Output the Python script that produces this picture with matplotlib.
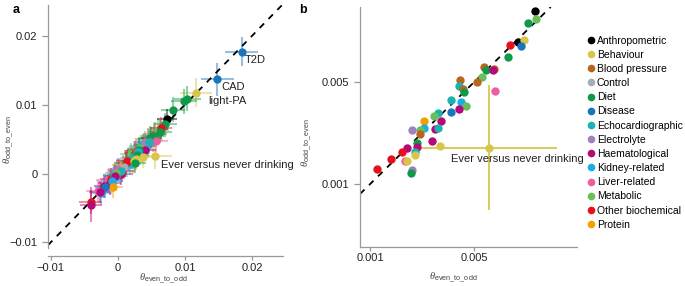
import numpy as np
import matplotlib.pyplot as plt
from matplotlib.lines import Line2D

plt.rcParams['font.family'] = ['Liberation Sans', 'DejaVu Sans']
plt.rcParams['mathtext.fontset'] = 'custom'
plt.rcParams['mathtext.rm'] = 'Liberation Sans'
plt.rcParams['mathtext.it'] = 'Liberation Serif:italic'

categories = ['Anthropometric', 'Behaviour', 'Blood pressure', 'Control', 'Diet',
              'Disease', 'Echocardiographic', 'Electrolyte', 'Haematological',
              'Kidney-related', 'Liver-related', 'Metabolic', 'Other biochemical', 'Protein']
colors = ['#000000', '#D8C64C', '#B8651E', '#A3AEB8', '#0E9A48', '#1A75BC', '#1BB2B2',
          '#9E82BE', '#B5087A', '#1BAEE6', '#EE5DA0', '#6BBE5A', '#E8101E', '#F5A000']
cmap = dict(zip(categories, colors))

# panel a: all traits, with standard errors
a_cat = ['Blood pressure', 'Blood pressure', 'Blood pressure', 'Electrolyte', 'Electrolyte',
         'Liver-related', 'Liver-related', 'Liver-related', 'Metabolic', 'Metabolic',
         'Echocardiographic', 'Echocardiographic', 'Haematological', 'Haematological',
         'Haematological', 'Other biochemical', 'Other biochemical', 'Protein', 'Protein',
         'Kidney-related', 'Kidney-related', 'Anthropometric',
         'Liver-related', 'Echocardiographic', 'Haematological', 'Metabolic', 'Kidney-related',
         'Other biochemical', 'Blood pressure', 'Diet', 'Liver-related', 'Echocardiographic',
         'Haematological', 'Metabolic', 'Diet', 'Electrolyte', 'Kidney-related', 'Liver-related',
         'Disease', 'Disease', 'Behaviour', 'Behaviour', 'Diet', 'Diet', 'Diet',
         'Anthropometric', 'Diet', 'Other biochemical', 'Diet', 'Diet', 'Liver-related',
         'Echocardiographic', 'Haematological', 'Diet', 'Kidney-related', 'Diet',
         'Other biochemical', 'Behaviour', 'Behaviour', 'Behaviour', 'Diet', 'Control',
         'Echocardiographic', 'Metabolic', 'Haematological', 'Kidney-related', 'Protein',
         'Disease', 'Haematological', 'Other biochemical', 'Haematological']
a_x = [0.0045, 0.0055, 0.0038, 0.0020, 0.0001,
       0.0010, -0.0015, 0.0030, 0.0040, 0.0020,
       0.0035, 0.0015, 0.0025, 0.0005,
       -0.0020, 0.0032, -0.0010, 0.0022, 0.0008,
       0.0042, 0.0018, 0.0050,
       -0.0030, -0.0005, 0.0012, 0.0060, -0.0025,
       0.0007, 0.0027, 0.0048, 0.0002, 0.0023,
       -0.0012, 0.0033, 0.0012, 0.0040, -0.0003, 0.0052,
       0.01844, 0.01485, 0.01171, 0.00553, 0.01036, 0.00987, 0.00822,
       0.00730, 0.00703, 0.00650, 0.00628, 0.00538, 0.00573,
       0.00463, 0.00403, 0.00314, 0.00304, 0.00289,
       0.00139, 0.00239, 0.00279, 0.00374, 0.00264, 0.00095,
       0.00050, -0.00025, -0.00035, -0.00085, -0.00070,
       -0.00184, -0.00269, -0.00404, -0.00399]
a_y = [0.0050, 0.0058, 0.0042, 0.0022, 0.0006,
       0.0008, -0.0010, 0.0026, 0.0043, 0.0028,
       0.0040, 0.0020, 0.0030, 0.0000,
       -0.0018, 0.0036, -0.0008, 0.0017, 0.0013,
       0.0040, 0.0014, 0.0052,
       -0.0026, -0.0002, 0.0016, 0.0064, -0.0028,
       0.0004, 0.0033, 0.0052, 0.0005, 0.0024,
       -0.0013, 0.0037, 0.0015, 0.0046, -0.0004, 0.0049,
       0.01770, 0.01370, 0.01177, 0.00251, 0.01085, 0.01047, 0.00926,
       0.00790, 0.00724, 0.00660, 0.00610, 0.00548, 0.00468,
       0.00453, 0.00347, 0.00347, 0.00309, 0.00275,
       0.00188, 0.00188, 0.00212, 0.00241, 0.00154, 0.00092,
       0.00034, 0.00010, -0.00029, -0.00111, -0.00193,
       -0.00193, -0.00270, -0.00415, -0.00449]
a_xerr = [0.0017, 0.0018, 0.0016, 0.0017, 0.0016,
          0.0018, 0.0017, 0.0016, 0.0017, 0.0016,
          0.0018, 0.0017, 0.0016, 0.0017,
          0.0016, 0.0018, 0.0016, 0.0016, 0.0017,
          0.0016, 0.0017, 0.0015,
          0.0018, 0.0017, 0.0018, 0.0017, 0.0016,
          0.0018, 0.0017, 0.0018, 0.0016, 0.0017,
          0.0017, 0.0018, 0.0016, 0.0017, 0.0018, 0.0016,
          0.0024, 0.0024, 0.0024, 0.0026, 0.0020, 0.0020, 0.0018,
          0.0015, 0.0018, 0.0016, 0.0018, 0.0018, 0.0017,
          0.0017, 0.0016, 0.0017, 0.0016, 0.0017,
          0.0017, 0.0016, 0.0016, 0.0016, 0.0016, 0.0016,
          0.0017, 0.0016, 0.0016, 0.0016, 0.0015,
          0.0016, 0.0016, 0.0017, 0.0016]
a_yerr = [0.0016, 0.0017, 0.0016, 0.0016, 0.0017,
          0.0016, 0.0017, 0.0016, 0.0016, 0.0017,
          0.0016, 0.0016, 0.0017, 0.0016,
          0.0017, 0.0016, 0.0016, 0.0017, 0.0016,
          0.0016, 0.0016, 0.0015,
          0.0017, 0.0016, 0.0018, 0.0016, 0.0017,
          0.0016, 0.0018, 0.0017, 0.0017, 0.0016,
          0.0018, 0.0016, 0.0017, 0.0016, 0.0017, 0.0018,
          0.0021, 0.0024, 0.0021, 0.0019, 0.0018, 0.0018, 0.0018,
          0.0015, 0.0016, 0.0016, 0.0017, 0.0016, 0.0016,
          0.0017, 0.0016, 0.0016, 0.0016, 0.0016,
          0.0016, 0.0016, 0.0016, 0.0016, 0.0015, 0.0016,
          0.0016, 0.0016, 0.0016, 0.0016, 0.0016,
          0.0016, 0.0016, 0.0017, 0.0025]
a_labels = [('T2D', 0.0189, 0.0165), ('CAD', 0.0155, 0.01254),
            ('light-PA', 0.01345, 0.01047), ('Ever versus never drinking', 0.00638, 0.0012)]

# panel b
b_cat = ['Anthropometric', 'Metabolic', 'Diet', 'Other biochemical', 'Anthropometric',
         'Behaviour', 'Disease', 'Diet', 'Blood pressure', 'Blood pressure', 'Diet',
         'Haematological', 'Metabolic', 'Blood pressure', 'Blood pressure',
         'Echocardiographic', 'Blood pressure', 'Diet', 'Liver-related',
         'Echocardiographic', 'Kidney-related', 'Metabolic', 'Haematological', 'Disease',
         'Echocardiographic', 'Metabolic', 'Haematological', 'Protein', 'Haematological',
         'Echocardiographic', 'Kidney-related', 'Metabolic', 'Electrolyte',
         'Blood pressure', 'Haematological', 'Diet', 'Haematological', 'Haematological',
         'Other biochemical', 'Echocardiographic', 'Behaviour', 'Other biochemical',
         'Liver-related', 'Behaviour', 'Other biochemical', 'Electrolyte', 'Diet',
         'Behaviour', 'Behaviour']
b_x = [0.00734, 0.00736, 0.00705, 0.00638, 0.00669, 0.00692, 0.00678, 0.00629, 0.00539,
       0.00578, 0.00544, 0.00571, 0.00531, 0.00510, 0.00445, 0.00443, 0.00458, 0.00462,
       0.00581, 0.00413, 0.00449, 0.00467, 0.00443, 0.00411, 0.00362, 0.00346, 0.00371,
       0.00306, 0.00349, 0.00361, 0.00306, 0.00294, 0.00260, 0.00293, 0.00338, 0.00282,
       0.00282, 0.00243, 0.00224, 0.00271, 0.00273, 0.00179, 0.00234, 0.00243, 0.00128,
       0.00261, 0.00259, 0.00369, 0.00557]
b_y = [0.00777, 0.00747, 0.00732, 0.00645, 0.00658, 0.00664, 0.00642, 0.00599, 0.00560,
       0.00551, 0.00547, 0.00547, 0.00519, 0.00502, 0.00509, 0.00483, 0.00472, 0.00463,
       0.00464, 0.00429, 0.00423, 0.00407, 0.00394, 0.00383, 0.00378, 0.00368, 0.00346,
       0.00348, 0.00317, 0.00322, 0.00322, 0.00314, 0.00314, 0.00296, 0.00270, 0.00261,
       0.00247, 0.00240, 0.00227, 0.00227, 0.00213, 0.00197, 0.00189, 0.00189, 0.00161,
       0.00154, 0.00144, 0.00248, 0.00243]
b_drink = (0.00557, 0.00243, 0.0026, 0.00246)

axis_grey = '#999999'
fs = 8


def style(ax):
    for s in ['top', 'right']:
        ax.spines[s].set_visible(False)
    for s in ['left', 'bottom']:
        ax.spines[s].set_color(axis_grey)
        ax.spines[s].set_linewidth(0.9)
    ax.tick_params(colors=axis_grey, labelcolor='#222222', labelsize=fs, width=0.9)
    ax.tick_params(axis='y', length=4, pad=3.5)
    ax.tick_params(axis='x', length=3, pad=1.5)


fig = plt.figure(figsize=(6.85, 2.86), dpi=100)

# ---- a ----
ax = fig.add_axes([0.070, 0.133, 0.343, 0.850])
style(ax)
ax.spines['bottom'].set_position(('outward', 6))
for c, x, y, xe, ye in zip(a_cat, a_x, a_y, a_xerr, a_yerr):
    ax.errorbar(x, y, xerr=xe, yerr=ye, fmt='none', ecolor=cmap[c], alpha=0.45,
                elinewidth=1.5, zorder=1)
for c, x, y in zip(a_cat, a_x, a_y):
    ax.plot(x, y, 'o', color=cmap[c], ms=6, mew=0, zorder=3)
ax.axline((0, 0), slope=1, color='black', ls=(0, (3.5, 3.5)), lw=1.3, zorder=2)
for t, x, y in a_labels:
    ax.text(x, y, t, fontsize=fs, va='center', ha='left', color='#222222', zorder=4)
ax.set_xlim(-0.0104, 0.0246)
ax.set_ylim(-0.0108, 0.0245)
ax.set_xticks([-0.01, 0, 0.01, 0.02], ['\u22120.01', '0', '0.01', '0.02'])
ax.set_yticks([-0.01, 0, 0.01, 0.02], ['\u22120.01', '0', '0.01', '0.02'])
ax.set_xlabel(r'$\theta_{\mathrm{even\_to\_odd}}$', fontsize=7.5, color='#444444')
ax.set_ylabel(r'$\theta_{\mathrm{odd\_to\_even}}$', fontsize=7.5, color='#444444')
ax.xaxis.set_label_coords(0.489, -0.095)
ax.yaxis.set_label_coords(-0.135, 0.444)

# ---- b ----
bx = fig.add_axes([0.5255, 0.1364, 0.3165, 0.8391])
style(bx)
bx.errorbar(b_drink[0], b_drink[1], xerr=b_drink[2], yerr=b_drink[3], fmt='none',
            ecolor=cmap['Behaviour'], elinewidth=1.3, zorder=1)
bx.axline((0, 0), slope=1, color='black', ls=(0, (3.5, 3.5)), lw=1.3, zorder=2)
for c, x, y in zip(b_cat, b_x, b_y):
    bx.plot(x, y, 'o', color=cmap[c], ms=6, mew=0, zorder=3)
bx.text(0.00411, 0.00197, 'Ever versus never drinking', fontsize=fs, va='center',
        ha='left', color='#222222', zorder=4, clip_on=False)
bx.set_xlim(0.000616, 0.00894)
bx.set_ylim(-0.00146, 0.00794)
bx.set_xticks([0.001, 0.005], ['0.001', '0.005'])
bx.set_yticks([0.001, 0.005], ['0.001', '0.005'])
bx.set_xlabel(r'$\theta_{\mathrm{even\_to\_odd}}$', fontsize=7.5, color='#444444')
bx.set_ylabel(r'$\theta_{\mathrm{odd\_to\_even}}$', fontsize=7.5, color='#444444')
bx.xaxis.set_label_coords(0.43, -0.097)
bx.yaxis.set_label_coords(-0.212, 0.433)

fig.text(0.019, 0.985, 'a', fontsize=9, fontweight='bold', va='top')
fig.text(0.437, 0.985, 'b', fontsize=9, fontweight='bold', va='top')

handles = [Line2D([], [], marker='o', ls='', color=cmap[c], ms=5.5, mew=0) for c in categories]
fig.legend(handles, categories, loc='upper left', bbox_to_anchor=(0.850, 0.89),
           frameon=False, fontsize=7.5, handletextpad=0.2, labelspacing=0.40,
           borderaxespad=0, handlelength=0.8)

fig.savefig('out.png', dpi=100)
